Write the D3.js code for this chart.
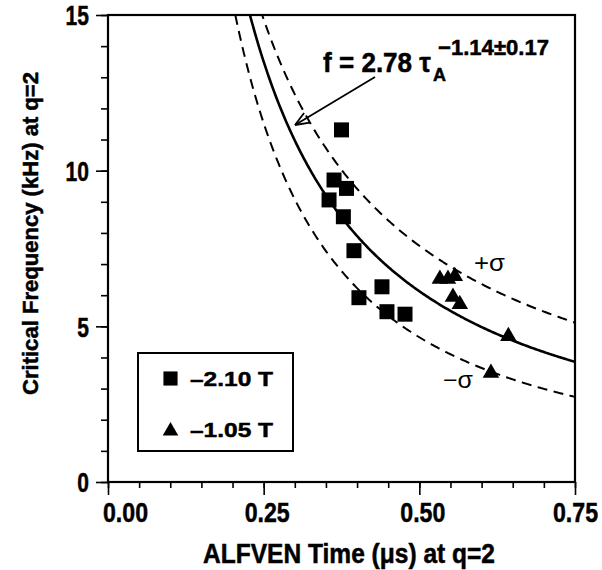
<!DOCTYPE html>
<html>
<head>
<meta charset="utf-8">
<script src="https://cdn.jsdelivr.net/npm/d3@7"></script>
<style>
  html, body { margin: 0; padding: 0; background: #fff; }
  svg { display: block; }
  .num { font-family: "Liberation Sans Narrow", "Arial Narrow", "Liberation Sans", Arial, sans-serif; font-weight: bold; stroke: #000; stroke-width: 0.5px; }
</style>
</head>
<body>
<script>
// ---------------- data ----------------
const xTickMajor = [0, 0.25, 0.5, 0.75];
const xTickLabels = ["0.00", "0.25", "0.50", "0.75"];
const xTickMinor = d3.range(0, 0.7501, 0.05);
const yTickMajor = [0, 5, 10, 15];
const yTickLabels = ["0", "5", "10", "15"];
const yTickMinor = d3.range(0, 15.01, 1);

// -2.10 T (squares)
const tauSquares  = [0.375, 0.363, 0.383, 0.355, 0.378, 0.395, 0.403, 0.440, 0.448, 0.477];
const freqSquares = [11.31, 9.70, 9.43, 9.06, 8.52, 7.43, 5.92, 6.27, 5.47, 5.39];
// -1.05 T (triangles)
const tauTriangles  = [0.533, 0.546, 0.557, 0.554, 0.565, 0.643, 0.615];
const freqTriangles = [6.52, 6.52, 6.61, 5.94, 5.71, 4.68, 3.50];

// fit curves f = a * tau^b  (fit, +sigma, -sigma)
const fitNames = ["fit", "plus", "minus"];
const fitCoef = [2.78, 3.873, 1.875];
const fitExp  = [-1.14, -0.97, -1.31];

const legendLabels = ["\u20132.10 T", "\u20131.05 T"];

// ---------------- layout ----------------
const W = 602, H = 570;
const L = 108, R = 575, T = 15, B = 482;

const svg = d3.select("body").append("svg").attr("width", W).attr("height", H);
const x = d3.scaleLinear().domain([0, 0.75]).range([L, R]);
const y = d3.scaleLinear().domain([0, 15]).range([B, T]);

function fitW(sel, w) { sel.attr("textLength", w).attr("lengthAdjust", "spacingAndGlyphs"); }

svg.append("defs").append("clipPath").attr("id", "clip")
  .append("rect").attr("x", L).attr("y", T).attr("width", R - L).attr("height", B - T);

// ---------------- axes ----------------
const gxMinor = svg.append("g").attr("transform", `translate(0,${B})`)
  .call(d3.axisBottom(x).tickValues(xTickMinor).tickSize(6).tickFormat(""));
const gx = svg.append("g").attr("transform", `translate(0,${B})`)
  .call(d3.axisBottom(x).tickValues(xTickMajor).tickSize(13)
        .tickFormat((d, i) => xTickLabels[i]));
const gyMinor = svg.append("g").attr("transform", `translate(${L},0)`)
  .call(d3.axisLeft(y).tickValues(yTickMinor).tickSize(7).tickFormat(""));
const gy = svg.append("g").attr("transform", `translate(${L},0)`)
  .call(d3.axisLeft(y).tickValues(yTickMajor).tickSize(12)
        .tickFormat((d, i) => yTickLabels[i]));

[gxMinor, gx, gyMinor, gy].forEach(g => {
  g.select(".domain").remove();
  g.selectAll(".tick line").attr("stroke", "#000").attr("stroke-width", 1.6);
});

gx.selectAll(".tick text")
  .attr("class", "num").attr("font-size", 28).attr("fill", "#000")
  .attr("y", 40).attr("dy", 0)
  .attr("dx", d => d === 0 ? 17 : (d === 0.75 ? 0 : 3))
  .each(function () { fitW(d3.select(this), this.textContent.length === 4 ? 45 : 20); });

gy.selectAll(".tick text")
  .attr("class", "num").attr("font-size", 27).attr("fill", "#000")
  .attr("x", -19).attr("dy", "0.36em")
  .each(function () { fitW(d3.select(this), this.textContent.length * 11.7); });

// frame
svg.append("rect").attr("x", L).attr("y", T).attr("width", R - L).attr("height", B - T)
  .attr("fill", "none").attr("stroke", "#000").attr("stroke-width", 2.2);

// axis titles
svg.append("text").attr("class", "num").attr("font-size", 27)
  .attr("x", 203).attr("y", 563).text("ALFVEN Time (\u03bcs) at q=2")
  .call(fitW, 292);

svg.append("text").attr("class", "num").attr("font-size", 22)
  .attr("transform", "translate(38,395) rotate(-90)")
  .text("Critical Frequency (kHz) at q=2")
  .call(fitW, 323);

// ---------------- curves ----------------
const tauSamples = d3.range(0.15, 0.7601, 0.002);
const gCurves = svg.append("g").attr("clip-path", "url(#clip)");
const line = d3.line().x(d => x(d[0])).y(d => y(d[1])).curve(d3.curveLinear);
fitNames.forEach((name, i) => {
  const pts = tauSamples.map(t => [t, fitCoef[i] * Math.pow(t, fitExp[i])]).filter(p => p[1] < 20);
  gCurves.append("path").datum(pts).attr("d", line)
    .attr("fill", "none").attr("stroke", "#000")
    .attr("stroke-width", name === "fit" ? 2.6 : 2)
    .attr("stroke-dasharray", name === "fit" ? null : "10,6.5");
});

// ---------------- points ----------------
const sq = d3.symbol().type(d3.symbolSquare).size(225);
const tri = d3.symbol().type(d3.symbolTriangle).size(118);
svg.append("g").selectAll("path").data(tauSquares.map((t, i) => [t, freqSquares[i]]))
  .join("path").attr("d", sq)
  .attr("transform", d => `translate(${x(d[0])},${y(d[1])})`).attr("fill", "#000");
svg.append("g").selectAll("path").data(tauTriangles.map((t, i) => [t, freqTriangles[i]]))
  .join("path").attr("d", tri)
  .attr("transform", d => `translate(${x(d[0])},${y(d[1])})`).attr("fill", "#000");

// ---------------- annotations ----------------
const eq = svg.append("g");
eq.append("text").attr("class", "num").attr("font-size", 28)
  .attr("x", 323).attr("y", 72).text("f = 2.78 \u03c4").call(fitW, 108);
eq.append("text").attr("class", "num").attr("font-size", 19)
  .attr("x", 433).attr("y", 81).text("A").call(fitW, 13);
eq.append("text").attr("class", "num").attr("font-size", 22)
  .attr("x", 438).attr("y", 55).text("\u22121.14\u00b10.17").call(fitW, 111);

// arrow
const ax0 = 375, ay0 = 77, ax1 = 295, ay1 = 125;
svg.append("line").attr("x1", ax0).attr("y1", ay0).attr("x2", ax1).attr("y2", ay1)
  .attr("stroke", "#000").attr("stroke-width", 1.8);
const ang = Math.atan2(ay0 - ay1, ax0 - ax1);
[0.38, -0.38].forEach(a => {
  svg.append("line").attr("x1", ax1).attr("y1", ay1)
    .attr("x2", ax1 + 15 * Math.cos(ang + a)).attr("y2", ay1 + 15 * Math.sin(ang + a))
    .attr("stroke", "#000").attr("stroke-width", 1.8);
});

svg.append("text").attr("font-family", "Liberation Sans, Arial, sans-serif").attr("font-size", 23)
  .attr("x", 474).attr("y", 271).text("+\u03c3").call(fitW, 31);
svg.append("text").attr("font-family", "Liberation Sans, Arial, sans-serif").attr("font-size", 23)
  .attr("x", 443).attr("y", 388).text("\u2212\u03c3").call(fitW, 30);

// ---------------- legend ----------------
const lg = svg.append("g");
lg.append("rect").attr("x", 138).attr("y", 353).attr("width", 155).attr("height", 98)
  .attr("fill", "#fff").attr("stroke", "#000").attr("stroke-width", 2);
const legSym = [d3.symbol().type(d3.symbolSquare).size(200), d3.symbol().type(d3.symbolTriangle).size(105)];
const legY = [378.5, 431];
const legBase = [385.5, 437];
legendLabels.forEach((lab, i) => {
  lg.append("path").attr("d", legSym[i]).attr("transform", `translate(170.5,${legY[i]})`).attr("fill", "#000");
  lg.append("text").attr("class", "num").attr("font-size", 21)
    .attr("x", 190).attr("y", legBase[i]).text(lab).call(fitW, 83);
});
</script>
</body>
</html>
